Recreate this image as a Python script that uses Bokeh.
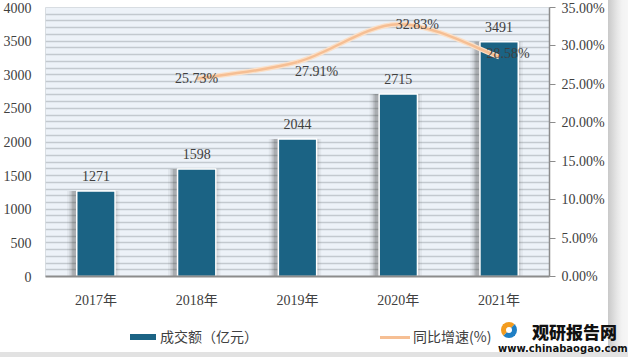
from bokeh.plotting import figure
from bokeh.models import (Range1d, LinearAxis, FixedTicker, SingleIntervalTicker,
                          NumeralTickFormatter, ColumnDataSource, Grid, Div)
from bokeh.layouts import column, row
from bokeh.core.properties import value
from bokeh.transform import dodge
from bokeh.embed import file_html
from bokeh.resources import INLINE

# ---- data ----
years = ["2017年", "2018年", "2019年", "2020年", "2021年"]
amount = [1271, 1598, 2044, 2715, 3491]            # 成交额（亿元）
growth_years_idx = [1, 2, 3, 4]
growth = [0.2573, 0.2791, 0.3283, 0.2858]           # 同比增速
growth_labels = ["25.73%", "27.91%", "32.83%", "28.58%"]
amount_labels = [str(v) for v in amount]
pct_ticks = [0.0, 0.05, 0.10, 0.15, 0.20, 0.25, 0.30, 0.35]
legend_names = ["成交额（亿元）", "同比增速(%)"]

FONT = "Liberation Serif, Noto Sans CJK SC"
TXT = "#404040"
BAR = "#1b6384"
ORANGE = "#f6bf94"

xs = list(range(len(years)))

p = figure(width=608, height=310, output_backend="svg", toolbar_location=None,
           x_range=Range1d(-0.5, 4.5), y_range=Range1d(0, 4000),
           min_border_left=45, min_border_right=59, min_border_top=7, min_border_bottom=33)
p.outline_line_color = "#d8dde2"
p.background_fill_color = "#edf2f8"
p.border_fill_color = "white"
p.xgrid.visible = False
p.ygrid.visible = False
g = Grid(dimension=1, ticker=SingleIntervalTicker(interval=100),
         grid_line_color="#c3c9cf", grid_line_width=1.6)
p.add_layout(g)

# left axis
ya = p.yaxis[0]
ya.ticker = SingleIntervalTicker(interval=500)
ya.axis_line_color = None
ya.major_tick_line_color = None
ya.minor_tick_line_color = None
ya.major_label_standoff = 8
ya.major_label_text_font = FONT
ya.major_label_text_font_size = "14px"
ya.major_label_text_color = TXT

# x axis
xa = p.xaxis[0]
xa.ticker = FixedTicker(ticks=xs)
xa.major_label_overrides = {i: y for i, y in enumerate(years)}
xa.axis_line_color = "#8c8c8c"
xa.axis_line_width = 2
xa.major_tick_line_color = None
xa.minor_tick_line_color = None
xa.major_label_standoff = 10
xa.major_label_text_font = FONT
xa.major_label_text_font_size = "14px"
xa.major_label_text_color = TXT

# right axis
p.extra_y_ranges = {"pct": Range1d(0, 0.35)}
ra = LinearAxis(y_range_name="pct", ticker=FixedTicker(ticks=pct_ticks),
                formatter=NumeralTickFormatter(format="0.00%"))
ra.axis_line_color = "#8c8c8c"
ra.axis_line_width = 1.5
ra.major_tick_line_color = "#8c8c8c"
ra.major_tick_in = 0
ra.major_tick_out = 6
ra.minor_tick_line_color = None
ra.major_label_standoff = 6
ra.major_label_text_font = FONT
ra.major_label_text_font_size = "14px"
ra.major_label_text_color = TXT
p.add_layout(ra, "right")

# bars with soft shadow (slightly to the left, as in the original)
src = ColumnDataSource(dict(x=xs, top=amount, lab=amount_labels))
for w, a in [(0.52, 0.05), (0.48, 0.08), (0.45, 0.11), (0.42, 0.16)]:
    p.vbar(x=dodge("x", -0.025), top="top", width=w, bottom=0, source=src,
           fill_color="#303030", fill_alpha=a, line_color=None)
p.vbar(x="x", top="top", width=0.38, source=src, fill_color=BAR,
       line_color="white", line_width=1.5)
p.text(x="x", y="top", text="lab", source=src, text_align="center",
       text_baseline="middle", y_offset=-15, text_font=value(FONT),
       text_font_size="14px", text_color=TXT)

# smooth growth line (Catmull-Rom bezier through the data points)
px = [float(i) for i in growth_years_idx]
py = growth
n = len(px)
bx0, by0, bx1, by1, cx0, cy0, cx1, cy1 = [], [], [], [], [], [], [], []
for i in range(n - 1):
    xm, ym = (px[i - 1], py[i - 1]) if i > 0 else (px[i], py[i])
    xp, yp = (px[i + 2], py[i + 2]) if i + 2 < n else (px[i + 1], py[i + 1])
    bx0.append(px[i]); by0.append(py[i]); bx1.append(px[i + 1]); by1.append(py[i + 1])
    cx0.append(px[i] + (px[i + 1] - xm) / 6); cy0.append(py[i] + (py[i + 1] - ym) / 6)
    cx1.append(px[i + 1] - (xp - px[i]) / 6); cy1.append(py[i + 1] - (yp - py[i]) / 6)
bsrc = ColumnDataSource(dict(x0=bx0, y0=by0, x1=bx1, y1=by1, cx0=cx0, cy0=cy0, cx1=cx1, cy1=cy1))
p.bezier(x0="x0", y0="y0", x1="x1", y1="y1", cx0="cx0", cy0="cy0", cx1="cx1", cy1="cy1",
         source=bsrc, line_color="#fbe0c8", line_width=5, y_range_name="pct")
p.bezier(x0="x0", y0="y0", x1="x1", y1="y1", cx0="cx0", cy0="cy0", cx1="cx1", cy1="cy1",
         source=bsrc, line_color=ORANGE, line_width=2.5, y_range_name="pct")

gsrc = ColumnDataSource(dict(x=px, y=py, lab=growth_labels,
                             xo=[0, 19, 19, 9], yo=[0, 10, 0, -3]))
p.text(x="x", y="y", text="lab", source=gsrc, x_offset="xo", y_offset="yo",
       text_align="center", text_baseline="middle", text_font=value(FONT),
       text_font_size="14px", text_color=TXT, y_range_name="pct")

# ---- page frame shadow on the right ----
GRAD = "linear-gradient(to right, #c9c9c9 0px, #e6e6e6 9px, #f3f3f3 14px, #f6f6f6 20px)"
strip = Div(text=f'<div style="width:20px;height:310px;background:{GRAD};"></div>',
            width=20, height=310, margin=0)

# ---- bottom strip: legend + source mark ----
CJK = "'Noto Sans CJK SC', sans-serif"
bottom_html = f'''
<div style="position:relative;width:628px;height:47px;overflow:hidden;">
  <div style="position:absolute;left:608px;top:0;width:20px;height:42px;background:{GRAD};"></div>
  <div style="position:absolute;left:0;top:42px;width:628px;height:5px;background:#e2e2e2;"></div>
  <div style="position:absolute;left:130px;top:24px;width:26px;height:6px;background:{BAR};"></div>
  <div style="position:absolute;left:160px;top:16px;font-family:{CJK};font-size:14px;line-height:20px;color:{TXT};white-space:nowrap;">{legend_names[0]}</div>
  <div style="position:absolute;left:380px;top:26px;width:30px;height:3px;background:{ORANGE};"></div>
  <div style="position:absolute;left:413px;top:16px;font-family:{CJK};font-size:14px;line-height:20px;color:{TXT};white-space:nowrap;">{legend_names[1]}</div>
  <div style="position:absolute;left:501px;top:12px;width:16px;height:16px;border-radius:50%;border:5px solid #1f7fc4;border-top-color:#f39c1f;border-left-color:#f39c1f;"></div>
  <div style="position:absolute;left:532px;top:11px;font-family:{CJK};font-weight:900;font-size:17px;line-height:22px;color:#111;white-space:nowrap;">观研报告网</div>
  <div style="position:absolute;left:498px;top:33px;font-family:'DejaVu Sans',sans-serif;font-weight:bold;font-size:10px;line-height:12px;color:#111;white-space:nowrap;">www.chinabaogao.com</div>
</div>
'''
bottom = Div(text=bottom_html, width=628, height=47, margin=0)

layout = column(row(p, strip, spacing=0), bottom, spacing=0)
open("out.html", "w").write(file_html(layout, INLINE))
